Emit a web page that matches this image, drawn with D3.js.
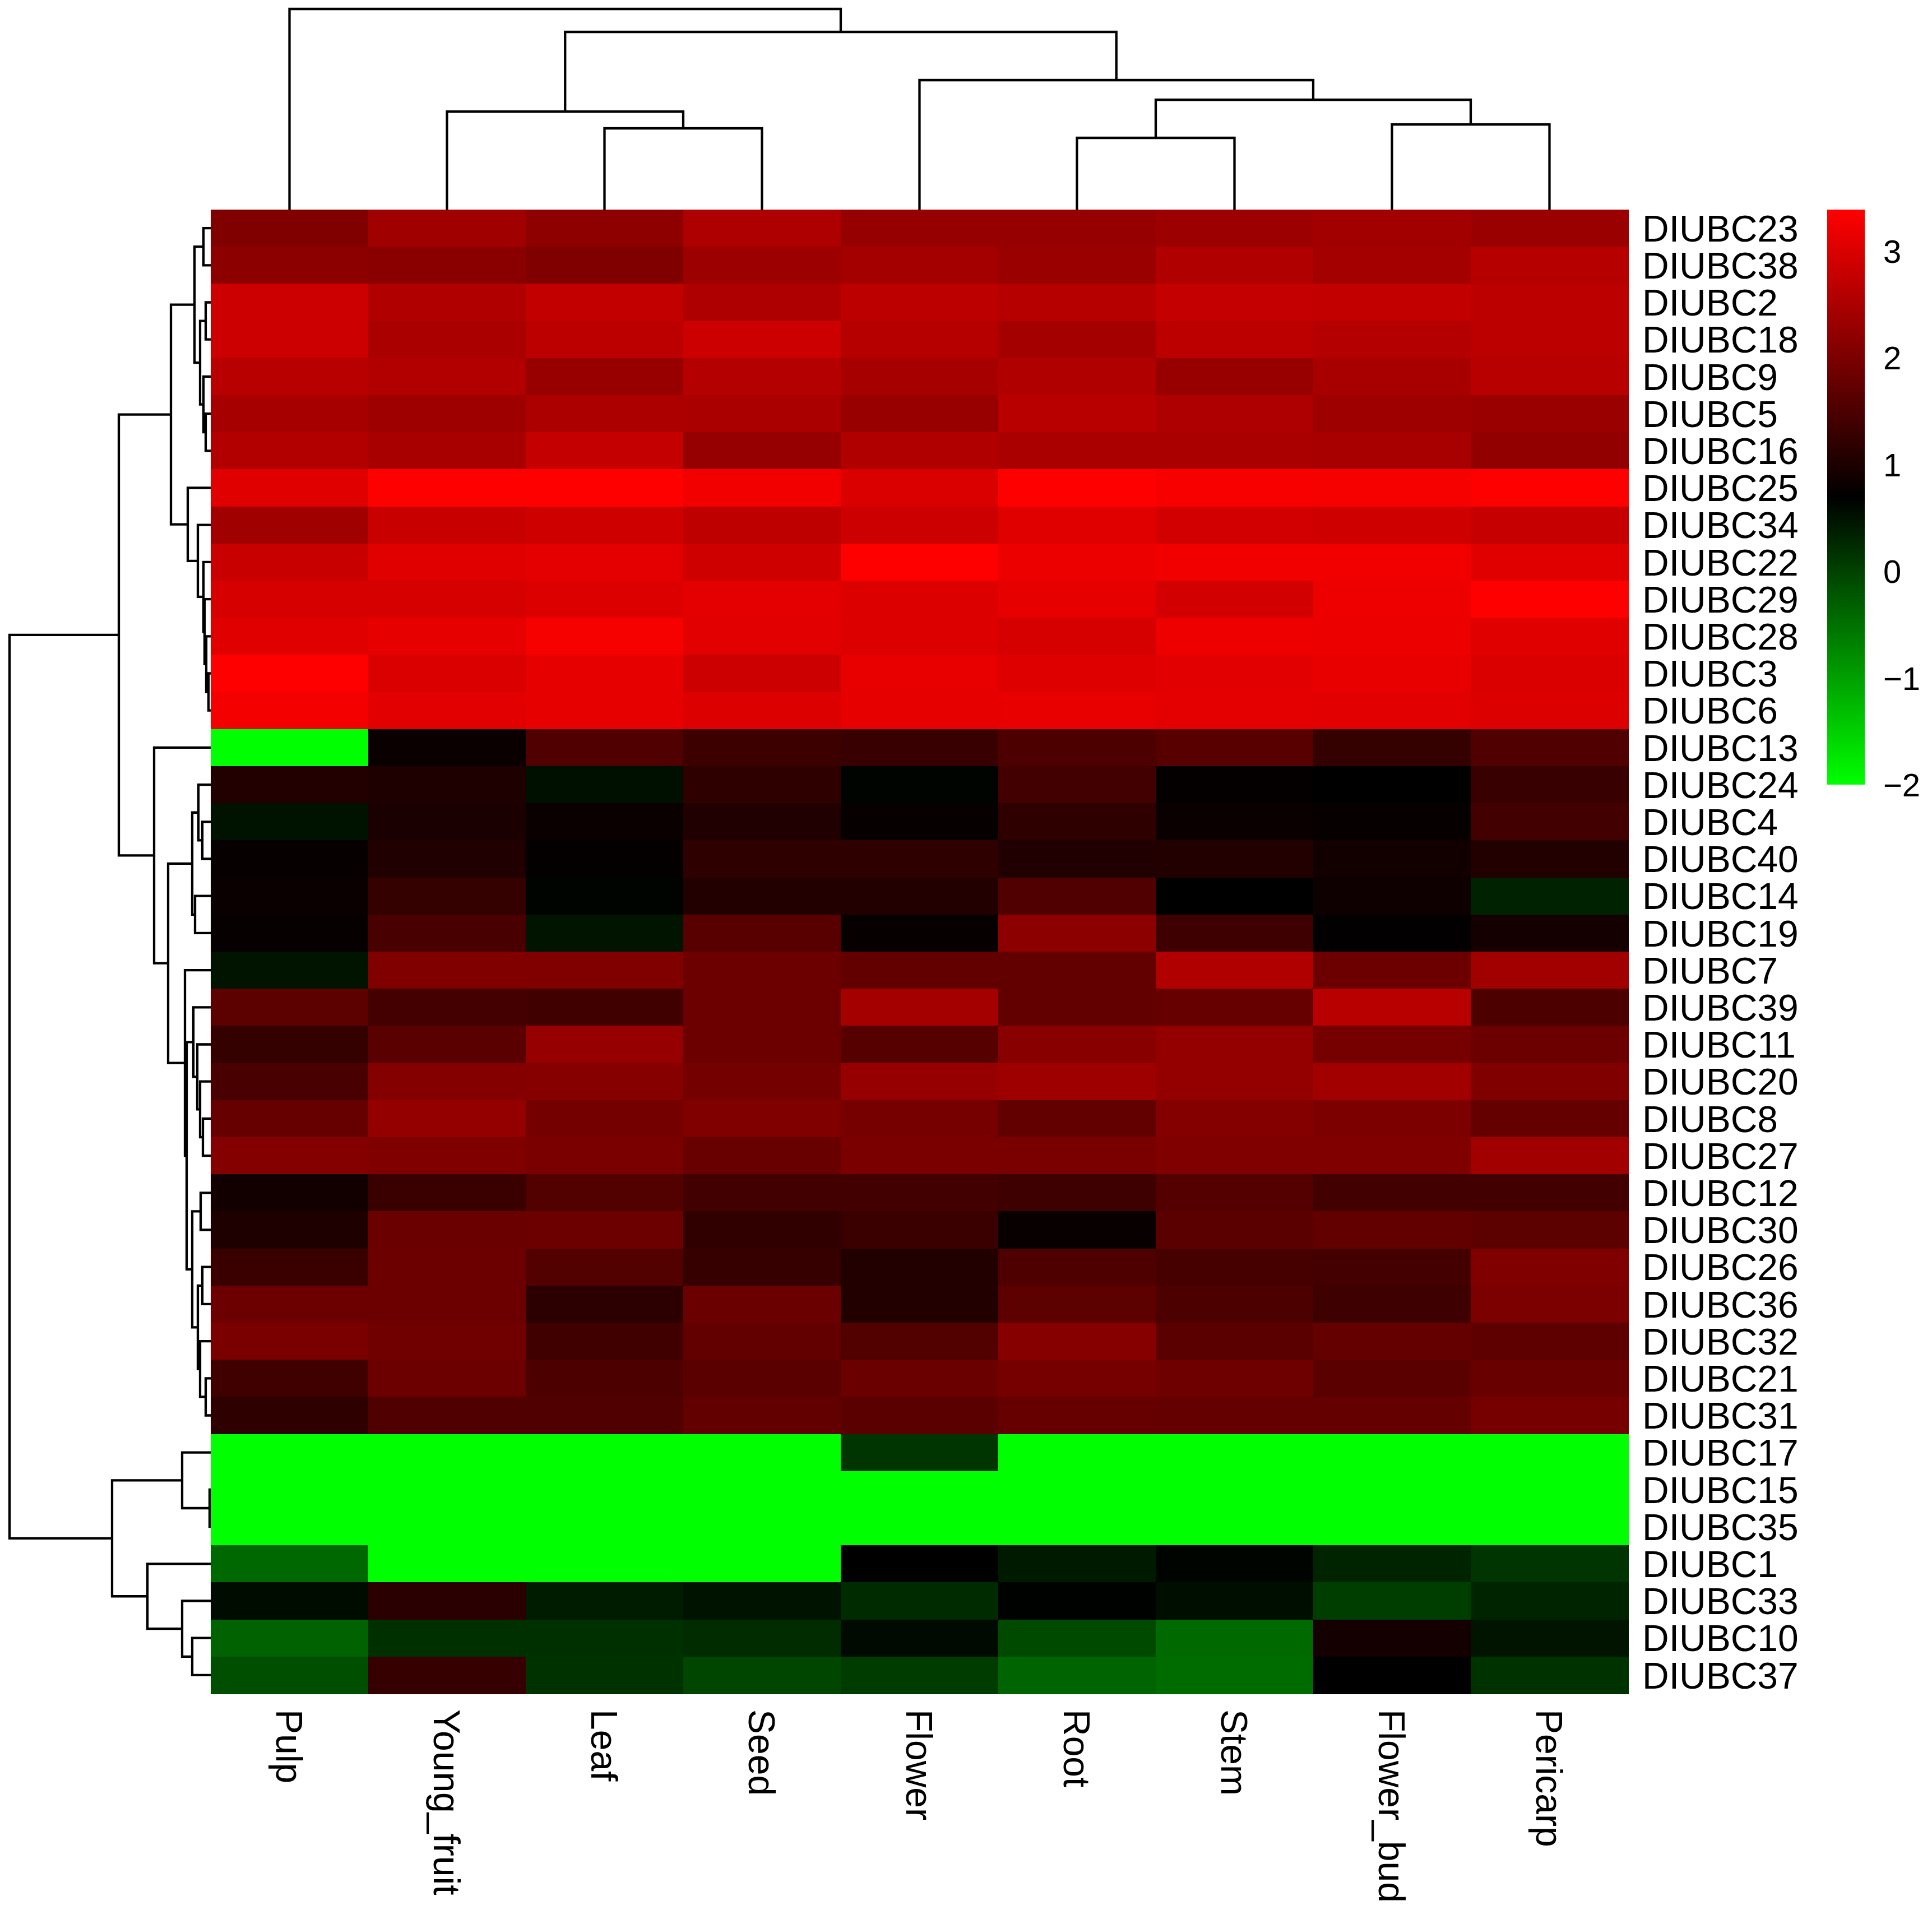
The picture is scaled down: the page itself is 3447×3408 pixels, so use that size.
<!DOCTYPE html>
<html>
<head>
<meta charset="utf-8">
<script src="https://cdn.jsdelivr.net/npm/d3@7"></script>
<style>
  html, body { margin: 0; padding: 0; background: #ffffff; }
  svg { display: block; }
  text { font-family: "Liberation Sans", Arial, Helvetica, sans-serif; fill: #000; }
</style>
</head>
<body>
<div id="chart"></div>
<script>
// ---------------- DATA ----------------
const samples = ["Pulp","Young_fruit","Leaf","Seed","Flower","Root","Stem","Flower_bud","Pericarp"];

const genes = ["DIUBC23","DIUBC38","DIUBC2","DIUBC18","DIUBC9","DIUBC5","DIUBC16","DIUBC25","DIUBC34","DIUBC22",
               "DIUBC29","DIUBC28","DIUBC3","DIUBC6","DIUBC13","DIUBC24","DIUBC4","DIUBC40","DIUBC14","DIUBC19",
               "DIUBC7","DIUBC39","DIUBC11","DIUBC20","DIUBC8","DIUBC27","DIUBC12","DIUBC30","DIUBC26","DIUBC36",
               "DIUBC32","DIUBC21","DIUBC31","DIUBC17","DIUBC15","DIUBC35","DIUBC1","DIUBC33","DIUBC10","DIUBC37"];

// expression values, one row per gene (same order as genes), columns as samples
const expression = [
  [2.05, 2.39, 2.20, 2.53, 2.28, 2.28, 2.34, 2.41, 2.32],
  [2.18, 2.15, 2.05, 2.34, 2.43, 2.32, 2.56, 2.43, 2.62],
  [2.85, 2.56, 2.75, 2.53, 2.68, 2.62, 2.77, 2.75, 2.68],
  [2.85, 2.49, 2.68, 2.85, 2.62, 2.43, 2.68, 2.60, 2.68],
  [2.64, 2.58, 2.30, 2.60, 2.45, 2.56, 2.30, 2.47, 2.64],
  [2.45, 2.37, 2.51, 2.49, 2.30, 2.64, 2.53, 2.37, 2.32],
  [2.58, 2.47, 2.77, 2.28, 2.56, 2.49, 2.49, 2.47, 2.24],
  [3.06, 3.39, 3.39, 3.25, 3.00, 3.39, 3.32, 3.30, 3.39],
  [2.39, 2.81, 2.87, 2.70, 2.85, 3.06, 2.91, 2.87, 2.79],
  [2.81, 3.06, 3.11, 2.87, 3.39, 3.19, 3.25, 3.25, 3.06],
  [2.96, 2.96, 3.02, 3.11, 3.02, 3.13, 2.91, 3.21, 3.39],
  [3.06, 3.13, 3.30, 3.08, 3.02, 2.96, 3.21, 3.19, 3.06],
  [3.39, 3.00, 3.13, 2.85, 3.15, 3.04, 3.08, 3.15, 3.00],
  [3.27, 3.08, 3.13, 3.02, 3.13, 3.15, 3.11, 3.08, 3.02],
  [-2.00, 0.80, 1.54, 1.33, 1.29, 1.50, 1.63, 1.25, 1.54],
  [1.05, 1.01, 0.53, 1.18, 0.65, 1.39, 0.74, 0.70, 1.29],
  [0.51, 0.97, 0.80, 1.03, 0.76, 1.18, 0.80, 0.76, 1.39],
  [0.76, 1.03, 0.74, 1.18, 1.18, 1.03, 1.05, 0.89, 1.05],
  [0.80, 1.25, 0.65, 1.05, 1.05, 1.54, 0.70, 0.84, 0.34],
  [0.76, 1.46, 0.48, 1.63, 0.76, 2.18, 1.35, 0.72, 0.91],
  [0.48, 2.05, 2.05, 1.84, 1.73, 1.73, 2.56, 1.84, 2.39],
  [1.67, 1.41, 1.37, 1.84, 2.43, 1.73, 1.77, 2.64, 1.50],
  [1.25, 1.65, 2.28, 1.84, 1.60, 2.13, 2.26, 1.94, 1.84],
  [1.46, 2.09, 2.11, 1.92, 2.28, 2.37, 2.26, 2.41, 2.05],
  [1.77, 2.26, 1.92, 2.05, 1.94, 1.73, 2.09, 2.01, 1.75],
  [2.09, 2.05, 1.98, 1.79, 1.98, 1.98, 2.05, 2.05, 2.41],
  [0.89, 1.31, 1.56, 1.39, 1.39, 1.35, 1.58, 1.39, 1.39],
  [1.01, 1.82, 1.84, 1.20, 1.31, 0.78, 1.65, 1.73, 1.67],
  [1.31, 1.84, 1.56, 1.27, 1.05, 1.52, 1.44, 1.41, 2.05],
  [1.84, 1.84, 1.16, 1.82, 1.05, 1.67, 1.50, 1.35, 2.01],
  [1.98, 1.88, 1.37, 1.73, 1.56, 2.11, 1.65, 1.75, 1.69],
  [1.37, 1.84, 1.50, 1.65, 1.82, 1.94, 1.86, 1.65, 1.79],
  [1.18, 1.54, 1.54, 1.73, 1.65, 1.77, 1.75, 1.75, 1.94],
  [-2.00, -2.00, -2.00, -2.00, 0.15, -2.00, -2.00, -2.00, -2.00],
  [-2.00, -2.00, -2.00, -2.00, -2.00, -2.00, -2.00, -2.00, -2.00],
  [-2.00, -2.00, -2.00, -2.00, -2.00, -2.00, -2.00, -2.00, -2.00],
  [-0.40, -2.00, -2.00, -2.00, 0.70, 0.42, 0.65, 0.32, 0.15],
  [0.57, 1.14, 0.40, 0.51, 0.25, 0.67, 0.55, 0.04, 0.32],
  [-0.34, 0.19, 0.19, 0.23, 0.59, -0.09, -0.43, 0.91, 0.48],
  [-0.13, 1.27, 0.17, -0.05, 0.06, -0.36, -0.45, 0.70, 0.17]
];

// column clustering (merge pairs: string = leaf, number = earlier merge, 1-based)
const colMerge = [
  ["Leaf","Seed"],
  ["Young_fruit", 1],
  ["Root","Stem"],
  ["Flower_bud","Pericarp"],
  [3, 4],
  ["Flower", 5],
  [2, 6],
  ["Pulp", 7]
];
const colMergeHeight = [145, 175, 128, 152, 196, 231, 317, 358];

// row clustering
const rowMerge = [
  ["DIUBC3","DIUBC6"],      // 1
  ["DIUBC28", 1],           // 2
  ["DIUBC29", 2],           // 3
  ["DIUBC22", 3],           // 4
  ["DIUBC34", 4],           // 5
  ["DIUBC25", 5],           // 6
  ["DIUBC2","DIUBC18"],     // 7
  ["DIUBC5","DIUBC16"],     // 8
  ["DIUBC9", 8],            // 9
  [7, 9],                   // 10
  ["DIUBC23","DIUBC38"],    // 11
  [11, 10],                 // 12
  [12, 6],                  // 13
  ["DIUBC4","DIUBC40"],     // 14
  ["DIUBC24", 14],          // 15
  ["DIUBC14","DIUBC19"],    // 16
  [15, 16],                 // 17
  ["DIUBC8","DIUBC27"],     // 18
  ["DIUBC20", 18],          // 19
  ["DIUBC11", 19],          // 20
  ["DIUBC39", 20],          // 21
  ["DIUBC12","DIUBC30"],    // 22
  ["DIUBC26","DIUBC36"],    // 23
  ["DIUBC21","DIUBC31"],    // 24
  ["DIUBC32", 24],          // 25
  [23, 25],                 // 26
  [22, 26],                 // 27
  [21, 27],                 // 28
  ["DIUBC7", 28],           // 29
  [17, 29],                 // 30
  ["DIUBC13", 30],          // 31
  [13, 31],                 // 32
  ["DIUBC15","DIUBC35"],    // 33
  ["DIUBC17", 33],          // 34
  ["DIUBC10","DIUBC37"],    // 35
  ["DIUBC33", 35],          // 36
  ["DIUBC1", 36],           // 37
  [34, 37],                 // 38
  [32, 38]                  // 39
];
const rowMergeHeight = [4, 8, 11, 13, 23, 41, 9, 9, 13, 19, 13, 29, 71, 15, 22, 28, 33,
                        14, 19, 24, 31, 18, 15, 9, 19, 23, 33, 43, 46, 76, 101, 164,
                        2, 51, 33, 51, 113, 176, 359];

const legendTicks = [-2, -1, 0, 1, 2, 3];
const legendMin = -2.0, legendMax = 3.39;

// ---------------- DRAW ----------------
const W = 3447, H = 3408;
const svg = d3.select("#chart").append("svg").attr("width", W).attr("height", H)
  .style("background", "#fff");

const hmLeft = 376, hmRight = 2905, hmTop = 374, hmBottom = 3022;

const x = d3.scaleBand().domain(samples).range([hmLeft, hmRight]);
const y = d3.scaleBand().domain(genes).range([hmTop, hmBottom]);

const legendMid = (legendMin + legendMax) / 2;
const color = d3.scaleLinear()
  .domain([legendMin, legendMid, legendMax])
  .range(["#00ff00", "#000000", "#ff0000"])
  .clamp(true);

function layout(merge, heights, posOf) {
  const nodes = [];
  merge.forEach((m, i) => {
    const kids = m.map(k => typeof k === "number" ? nodes[k - 1] : { p: posOf(k), h: 0 });
    nodes.push({ p: (kids[0].p + kids[1].p) / 2, h: heights[i], kids });
  });
  return nodes;
}

// column dendrogram
const colH = d3.scaleLinear().domain([0, d3.max(colMergeHeight)]).range([hmTop, 16]);
const colNodes = layout(colMerge, colMergeHeight, s => x(s) + x.bandwidth() / 2);
svg.append("g").selectAll("path").data(colNodes).join("path")
  .attr("d", n => {
    const [a, b] = n.kids;
    return `M${a.p},${colH(a.h)}V${colH(n.h)}H${b.p}V${colH(b.h)}`;
  })
  .attr("fill", "none").attr("stroke", "#000").attr("stroke-width", 4.3);

// row dendrogram
const rowH = d3.scaleLinear().domain([0, d3.max(rowMergeHeight)]).range([hmLeft, 17]);
const rowNodes = layout(rowMerge, rowMergeHeight, g => y(g) + y.bandwidth() / 2);
svg.append("g").selectAll("path").data(rowNodes).join("path")
  .attr("d", n => {
    const [a, b] = n.kids;
    return `M${rowH(a.h)},${a.p}H${rowH(n.h)}V${b.p}H${rowH(b.h)}`;
  })
  .attr("fill", "none").attr("stroke", "#000").attr("stroke-width", 4.3);

// heatmap cells
const cells = [];
genes.forEach((g, i) => samples.forEach((s, j) => cells.push({ g, s, v: expression[i][j] })));
svg.append("g").attr("shape-rendering", "crispEdges")
  .selectAll("rect").data(cells).join("rect")
  .attr("x", d => x(d.s)).attr("y", d => y(d.g))
  .attr("width", x.bandwidth() + 0.5).attr("height", y.bandwidth() + 0.5)
  .attr("fill", d => color(d.v));

// row labels
svg.append("g").selectAll("text").data(genes).join("text")
  .attr("x", hmRight + 25)
  .attr("y", g => y(g) + y.bandwidth() / 2)
  .attr("dy", "0.36em")
  .attr("font-size", 66)
  .text(g => g);

// column labels (rotated, reading downward)
svg.append("g").selectAll("text").data(samples).join("text")
  .attr("transform", s => `translate(${x(s) + x.bandwidth() / 2},${hmBottom + 28}) rotate(90)`)
  .attr("dy", "0.36em")
  .attr("font-size", 66)
  .text(s => s);

// legend
const legTop = 374, legBottom = 1400, legX = 3260, legW = 67;
const defs = svg.append("defs");
const grad = defs.append("linearGradient").attr("id", "legGrad")
  .attr("x1", 0).attr("y1", 1).attr("x2", 0).attr("y2", 0);
grad.selectAll("stop").data([legendMin, legendMid, legendMax]).join("stop")
  .attr("offset", v => (v - legendMin) / (legendMax - legendMin))
  .attr("stop-color", v => color(v));
svg.append("rect").attr("x", legX).attr("y", legTop).attr("width", legW)
  .attr("height", legBottom - legTop).attr("fill", "url(#legGrad)");

const legScale = d3.scaleLinear().domain([legendMin, legendMax]).range([legBottom, legTop]);
const fmt = d3.format("d");
svg.append("g").selectAll("text").data(legendTicks).join("text")
  .attr("x", 3360)
  .attr("y", v => legScale(v))
  .attr("dy", "0.36em")
  .attr("font-size", 58)
  .text(v => fmt(v));
</script>
</body>
</html>
